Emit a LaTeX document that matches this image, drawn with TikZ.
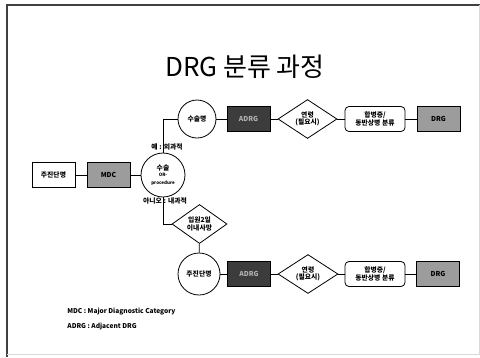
\documentclass[tikz,border=0pt]{standalone}
\usepackage{fontspec}
\setmainfont{Noto Sans CJK KR}
\usetikzlibrary{shapes.geometric}
\definecolor{midgray}{HTML}{9C9C9C}
\definecolor{darkfill}{HTML}{3C3C3C}
\newcommand\tinytxt[1]{{\fontsize{4.5}{5}\selectfont\bfseries #1}}
\begin{document}
\begin{tikzpicture}[x=1pt, y=-1pt, line width=0.8pt,
  every node/.style={font=\fontsize{6.8}{7.6}\selectfont\bfseries, align=center, inner sep=0pt},
  stepbox/.style={draw, minimum width=43pt, minimum height=25pt},
  graybox/.style={stepbox, fill=midgray},
  darkbox/.style={stepbox, fill=darkfill, text=black!30},
  roundbox/.style={stepbox, minimum width=60pt, rounded corners=4pt},
  circ/.style={draw, circle},
  decide/.style={draw, diamond, minimum width=59pt, minimum height=32pt}]
  \useasboundingbox (0,0) rectangle (480,357);
  % frame
  \draw[line width=1.3pt, black!75] (7,357) -- (7,5) -- (480,5);
  \draw[black!15] (479,5) -- (479,354) -- (7,354);
  \node[font=\fontsize{26}{30}\selectfont] (title) at (245,67) {DRG 분류 과정};
  % main line
  \node[stepbox] (dx) at (53.5,175) {주진단명};
  \node[graybox] (mdc) at (108.5,175) {MDC};
  \node[circ, minimum size=44pt] (surg) at (163,175)
    {수술\\[-1pt]\tinytxt{OR-}\\\tinytxt{procedure}};
  % surgical branch
  \node[circ, minimum size=38pt] (opname) at (197,119) {수술명};
  \node[darkbox] (adrgA) at (248.5,119) {ADRG};
  \node[decide] (ageA) at (307.5,119) {연령\\(필요시)};
  \node[roundbox] (ccA) at (375,119) {합병증/\\동반상병 분류};
  \node[graybox] (drgA) at (438.5,119) {DRG};
  % medical branch
  \node[decide, minimum width=55pt, minimum height=37pt] (death) at (199.5,224) {입원2일\\이내사망};
  \node[circ, minimum size=42pt] (dxB) at (199,274) {주진단명};
  \node[darkbox] (adrgB) at (249,274) {ADRG};
  \node[decide, minimum width=60pt] (ageB) at (308,274) {연령\\(필요시)};
  \node[roundbox] (ccB) at (375,274) {합병증/\\동반상병 분류};
  \node[graybox] (drgB) at (438,274) {DRG};
  % connectors
  \draw (dx) -- (mdc) -- (surg);
  \draw (surg.north) |- (opname);
  \draw (surg.south) |- (death);
  \draw (opname) -- (adrgA) -- (ageA) -- (ccA) -- (drgA);
  \draw (death) -- (dxB);
  \draw (dxB) -- (adrgB) -- (ageB) -- (ccB) -- (drgB);
  \node (yes) at (167,147) {예 : 외과적};
  \node (no) at (165,201) {아니오 : 내과적};
  % legend
  \node[anchor=west, font=\fontsize{6.6}{8}\selectfont\bfseries] (key1) at (67,312) {MDC : Major Diagnostic Category};
  \node[anchor=west, font=\fontsize{6.6}{8}\selectfont\bfseries] (key2) at (67,326) {ADRG : Adjacent DRG};
\end{tikzpicture}
\end{document}
